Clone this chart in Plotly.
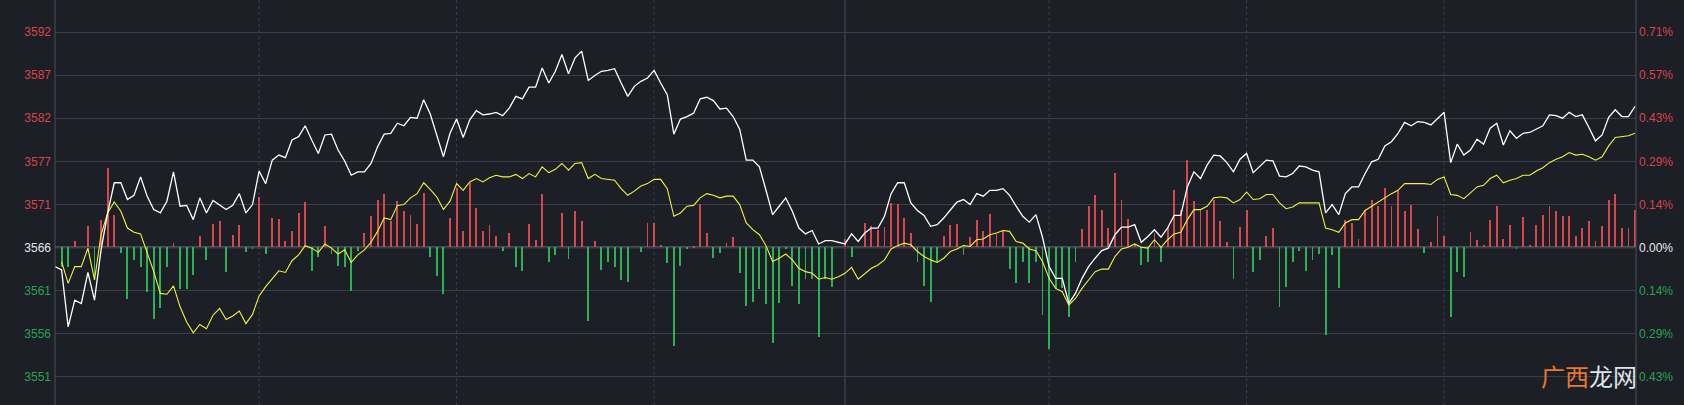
import plotly.graph_objects as go

# ---------------- data ----------------
prev_close = 3566.3
grid_step = 5.13

minutes = list(range(241))

price = [
    3564.0, 3563.6, 3556.8, 3560.0, 3559.6, 3563.3, 3560.0, 3566.0, 3570.4, 3574.0,
    3574.0, 3572.0, 3572.5, 3574.7, 3572.4, 3570.8, 3570.4, 3571.8, 3575.3, 3571.2,
    3571.3, 3569.6, 3572.2, 3570.4, 3571.9, 3571.3, 3570.8, 3571.3, 3572.7, 3570.4,
    3571.4, 3575.4, 3573.9, 3576.7, 3577.3, 3577.0, 3579.1, 3579.5, 3580.8, 3579.1,
    3577.5, 3579.7, 3579.8, 3577.9, 3576.6, 3574.9, 3575.3, 3575.3, 3576.3, 3578.3,
    3579.8, 3579.9, 3581.1, 3580.8, 3581.8, 3581.7, 3583.9, 3582.2, 3579.7, 3577.1,
    3579.9, 3581.6, 3579.4, 3581.5, 3582.6, 3582.1, 3582.2, 3582.4, 3582.0, 3582.9,
    3584.3, 3584.0, 3585.4, 3585.4, 3587.7, 3585.9, 3587.3, 3589.3, 3587.0, 3588.9,
    3589.7, 3586.2, 3586.8, 3587.3, 3587.4, 3587.6, 3585.9, 3584.3, 3585.5, 3586.1,
    3586.5, 3587.4, 3585.9, 3584.5, 3579.8, 3581.6, 3581.9, 3582.3, 3584.0, 3584.2,
    3583.8, 3582.8, 3582.9, 3581.9, 3580.4, 3576.7, 3576.7, 3575.9, 3573.1, 3570.2,
    3571.2, 3572.2, 3570.6, 3568.6, 3567.9, 3568.3, 3566.7, 3567.1, 3567.1, 3566.9,
    3566.7, 3567.9, 3567.0, 3568.0, 3568.6, 3568.6, 3570.0, 3572.7, 3574.0, 3574.0,
    3571.6, 3570.7, 3570.1, 3568.8, 3569.0, 3569.8, 3570.7, 3571.7, 3572.0, 3571.4,
    3572.7, 3572.4, 3573.1, 3573.1, 3573.3, 3572.5, 3571.2, 3570.0, 3569.3, 3570.2,
    3567.5, 3564.0, 3562.6, 3562.6, 3559.6, 3560.8, 3562.6, 3564.0, 3565.0, 3565.9,
    3566.2, 3567.8, 3568.7, 3568.7, 3569.0, 3566.9, 3567.6, 3568.4, 3567.5, 3568.6,
    3570.1, 3570.1, 3573.5, 3575.3, 3574.5, 3576.1, 3577.3, 3577.2, 3576.4, 3575.3,
    3576.8, 3577.5, 3575.2, 3576.0, 3576.7, 3576.6, 3574.8, 3574.7, 3575.1, 3576.0,
    3575.9, 3575.5, 3575.3, 3570.4, 3571.4, 3570.2, 3572.7, 3573.5, 3573.5, 3575.1,
    3576.5, 3576.8, 3578.4, 3578.9, 3579.9, 3581.2, 3580.8, 3581.3, 3581.2, 3580.9,
    3581.7, 3582.4, 3576.4, 3578.6, 3577.3, 3577.9, 3579.2, 3578.6, 3580.5, 3581.1,
    3578.5, 3580.2, 3579.3, 3579.9, 3580.0, 3580.4, 3580.8, 3582.1, 3582.0, 3581.7,
    3582.4, 3581.9, 3582.1, 3580.6, 3579.0, 3579.7, 3581.8, 3582.7, 3581.9, 3581.9,
    3583.1,
]

avg_line = [
    None, 3564.6, 3562.0, 3564.0, 3564.0, 3566.2, 3562.4, 3567.8, 3570.4, 3571.7,
    3570.6, 3568.6, 3568.1, 3567.9, 3565.6, 3563.4, 3560.8, 3560.7, 3561.7, 3559.2,
    3557.4, 3556.1, 3557.1, 3556.6, 3558.2, 3559.0, 3557.7, 3558.1, 3558.7, 3557.2,
    3558.3, 3560.5, 3561.6, 3562.5, 3563.5, 3563.3, 3564.7, 3565.4, 3566.5, 3566.2,
    3565.7, 3566.7, 3566.2, 3565.5, 3566.0, 3564.5, 3565.4, 3566.0, 3566.9, 3568.2,
    3569.8, 3569.6, 3571.3, 3571.4, 3572.2, 3572.7, 3574.0, 3573.2, 3572.3, 3570.8,
    3571.8, 3573.9, 3573.1, 3574.1, 3574.5, 3574.1, 3574.6, 3574.9, 3574.7, 3574.7,
    3575.0, 3574.5, 3575.1, 3574.7, 3575.9, 3575.2, 3575.6, 3576.3, 3575.5, 3576.3,
    3576.4, 3574.5, 3575.0, 3574.5, 3574.4, 3574.3, 3573.3, 3572.5, 3573.0, 3573.6,
    3573.9, 3574.4, 3574.4, 3573.3, 3570.0, 3570.4, 3571.2, 3571.3, 3572.2, 3572.7,
    3572.5, 3572.2, 3572.4, 3572.4, 3571.4, 3569.2, 3568.4, 3567.8, 3566.5, 3564.6,
    3565.0, 3565.5, 3564.8, 3563.8, 3563.4, 3563.2, 3562.5, 3562.7, 3562.5, 3562.8,
    3563.2, 3563.9, 3562.5, 3563.2, 3563.8, 3564.2, 3564.8, 3566.1, 3566.5, 3566.8,
    3566.6, 3565.8, 3565.2, 3564.8, 3564.5, 3565.0, 3565.8, 3566.1, 3566.5, 3566.4,
    3567.2, 3567.3, 3567.8, 3568.0, 3568.3, 3568.2, 3567.0, 3566.8, 3566.1, 3565.9,
    3564.6, 3562.6, 3561.4, 3561.0, 3559.4, 3560.2, 3561.4, 3562.4, 3563.4, 3563.7,
    3563.7, 3565.2, 3566.1, 3566.3, 3566.7, 3566.3, 3566.2, 3567.2, 3566.3, 3567.2,
    3567.9, 3568.1, 3569.6, 3570.8, 3570.8, 3571.2, 3572.2, 3572.3, 3572.2, 3571.6,
    3572.0, 3572.9, 3572.0, 3572.1, 3572.6, 3572.6, 3571.6, 3570.9, 3571.1, 3571.6,
    3571.6, 3571.6, 3571.6, 3568.6, 3568.4, 3568.1, 3569.2, 3569.6, 3569.6, 3570.7,
    3571.2, 3571.7, 3572.3, 3572.7, 3573.1, 3573.9, 3573.9, 3573.9, 3573.9, 3573.8,
    3574.4, 3574.7, 3572.6, 3572.5, 3572.1, 3572.8, 3573.5, 3573.7, 3574.5, 3574.9,
    3574.0, 3574.3, 3574.5, 3574.9, 3574.9, 3575.4, 3575.8, 3576.4, 3576.8, 3577.1,
    3577.6, 3577.3, 3577.4, 3577.1, 3576.7, 3577.1, 3578.4, 3579.4, 3579.5, 3579.6,
    3579.9,
]

power = [
    0.0, -2.3, -2.3, 0.8, 0.0, 2.6, -3.8, 3.3, 9.5, 3.9,
    -0.7, -6.2, -1.5, -2.4, -5.3, -8.6, -7.2, -2.4, 0.5, -5.0,
    -5.0, -3.3, 1.4, -1.5, 2.8, 3.1, -2.9, 1.5, 2.7, -0.6,
    -0.2, 6.0, -0.8, 3.5, 3.4, 0.7, 2.0, 4.1, 5.4, -2.8,
    -1.2, 2.6, -0.8, -2.2, -2.3, -5.2, -0.4, 1.7, 3.7, 5.6,
    6.4, 3.1, 5.5, 4.3, 3.9, 2.8, 6.5, -1.2, -3.4, -5.6,
    3.5, 7.1, 2.0, 7.7, 4.7, 2.0, 2.7, 1.4, -0.4, 1.7,
    -2.3, -2.8, 2.8, 0.9, 6.4, -1.8, -0.9, 4.1, -1.4, 4.3,
    3.1, -8.8, 0.8, -2.7, -1.7, -2.4, -3.9, -4.1, 0.0, -0.5,
    2.9, 2.9, 0.3, -1.9, -11.8, -2.2, -0.2, 0.1, 5.2, 1.7,
    -1.3, -0.7, 0.5, 1.2, -3.1, -7.0, -6.5, -5.0, -6.8, -11.4,
    -6.6, -0.1, -4.6, -6.8, -3.8, -3.8, -10.7, -3.8, -4.7, 0.0,
    1.0, -1.2, 0.0, 2.9, 2.5, 2.1, 2.4, 5.3, 5.2, 3.5,
    1.7, -1.8, -4.6, -6.5, -1.8, 1.4, 2.7, 2.8, -0.9, 1.2,
    3.2, 1.9, 4.0, 1.6, 2.0, -2.6, -4.3, -1.8, -4.2, -1.7,
    -8.1, -12.1, -5.0, -4.8, -8.3, -1.8, 2.2, 4.9, 6.2, 4.5,
    2.3, 8.9, 5.7, 3.4, 0.4, -2.1, -1.7, 1.7, -1.8, 2.4,
    6.8, 4.4, 10.4, 5.5, 4.5, 4.5, 5.7, 3.1, 0.6, -3.8,
    2.4, 4.5, -3.0, -1.5, 1.3, 2.3, -7.1, -4.7, -1.8, -0.4,
    -2.8, -1.5, -0.8, -10.5, -0.9, -4.8, 3.3, 2.9, 1.0, 4.5,
    5.7, 4.9, 7.1, 4.9, 6.7, 4.3, 5.0, 2.2, -0.7, 0.6,
    3.7, 1.4, -8.3, -3.0, -3.6, 1.8, 0.9, 0.3, 3.3, 4.9,
    1.0, 2.7, -0.2, 3.6, 0.3, 2.7, 3.9, 4.9, 4.3, 3.7,
    3.7, 1.3, 2.3, 3.1, 0.7, 2.5, 5.7, 6.4, 2.3, 2.3,
    4.5,
]

grid_steps = [-3, -2, -1, 0, 1, 2, 3, 4, 5]
left_labels = ["3551", "3556", "3561", "3566", "3571", "3577", "3582", "3587", "3592"]
right_labels = ["0.43%", "0.29%", "0.14%", "0.00%", "0.14%", "0.29%", "0.43%", "0.57%", "0.71%"]

half_hour_marks = [31, 61, 91, 151, 181, 211]
midday_mark = 120

# ---------------- styling ----------------
BG = "#1c1f26"
GRID = "#3b3f48"
AXIS = "#4a4e58"
RED = "#d8474c"
GREEN = "#2cb155"
LBL_RED = "#d9434a"
LBL_GREEN = "#27a350"
FONT = "Liberation Sans"

y_top = prev_close + 29.5
y_bot = prev_close - 18.81
tick_vals = [prev_close + k * grid_step for k in grid_steps]


def colored(labels):
    out = []
    for k, t in zip(grid_steps, labels):
        c = LBL_RED if k > 0 else (LBL_GREEN if k < 0 else "#e8e8e8")
        out.append(f"<span style='color:{c}'>{t}</span>")
    return out


bar_colors = [RED if v >= 0 else GREEN for v in power]

fig = go.Figure()
fig.add_trace(go.Bar(
    x=minutes, y=power, base=prev_close, width=0.13,
    marker=dict(color=bar_colors, line=dict(width=0)),
    hoverinfo="skip",
))
fig.add_trace(go.Scatter(
    x=minutes, y=avg_line, mode="lines",
    line=dict(color="#f2f23a", width=1.1), hoverinfo="skip",
))
fig.add_trace(go.Scatter(
    x=minutes, y=price, mode="lines",
    line=dict(color="#ffffff", width=1.3), hoverinfo="skip",
))
fig.add_trace(go.Scatter(
    x=[0], y=[prev_close], yaxis="y2", mode="markers",
    marker=dict(opacity=0), hoverinfo="skip",
))

shapes = []
for m in half_hour_marks:
    shapes.append(dict(type="line", xref="x", yref="paper", x0=m, x1=m, y0=0, y1=1,
                       line=dict(color="#3d414a", width=1, dash="dot"), layer="below"))
shapes.append(dict(type="line", xref="x", yref="paper", x0=midday_mark, x1=midday_mark,
                   y0=0, y1=1, line=dict(color=AXIS, width=1), layer="below"))
shapes.append(dict(type="line", xref="paper", yref="y", x0=0, x1=1, y0=prev_close, y1=prev_close,
                   line=dict(color="#5a5e68", width=2), layer="below"))
for px in (0, 1):
    shapes.append(dict(type="line", xref="paper", yref="paper", x0=px, x1=px, y0=0, y1=1,
                       line=dict(color=AXIS, width=1)))

fig.update_layout(
    width=1684, height=405,
    margin=dict(l=55, r=48, t=0, b=0),
    paper_bgcolor=BG, plot_bgcolor=BG,
    showlegend=False, bargap=0,
    xaxis=dict(range=[0, 240.15], showgrid=False, zeroline=False,
               showticklabels=False, showline=False, fixedrange=True),
    yaxis=dict(range=[y_bot, y_top], tickvals=tick_vals, ticktext=colored(left_labels),
               showgrid=True, gridcolor=GRID, gridwidth=1, zeroline=False,
               showline=False, ticks="", ticklabelstandoff=3,
               tickfont=dict(family=FONT, size=12)),
    yaxis2=dict(range=[y_bot, y_top], overlaying="y", side="right",
                tickvals=tick_vals, ticktext=colored(right_labels),
                showgrid=False, zeroline=False, showline=False, ticks="",
                ticklabelstandoff=2, tickfont=dict(family=FONT, size=12)),
    shapes=shapes,
    annotations=[dict(
        xref="paper", yref="paper", x=0.9705, y=0.072, xanchor="center", yanchor="middle",
        text="<span style='color:#e8782f'>广西</span><span style='color:#dfe3ea'>龙网</span>",
        showarrow=False, font=dict(family="Noto Sans CJK SC", size=24),
    )],
)

fig.write_html("out.html")
